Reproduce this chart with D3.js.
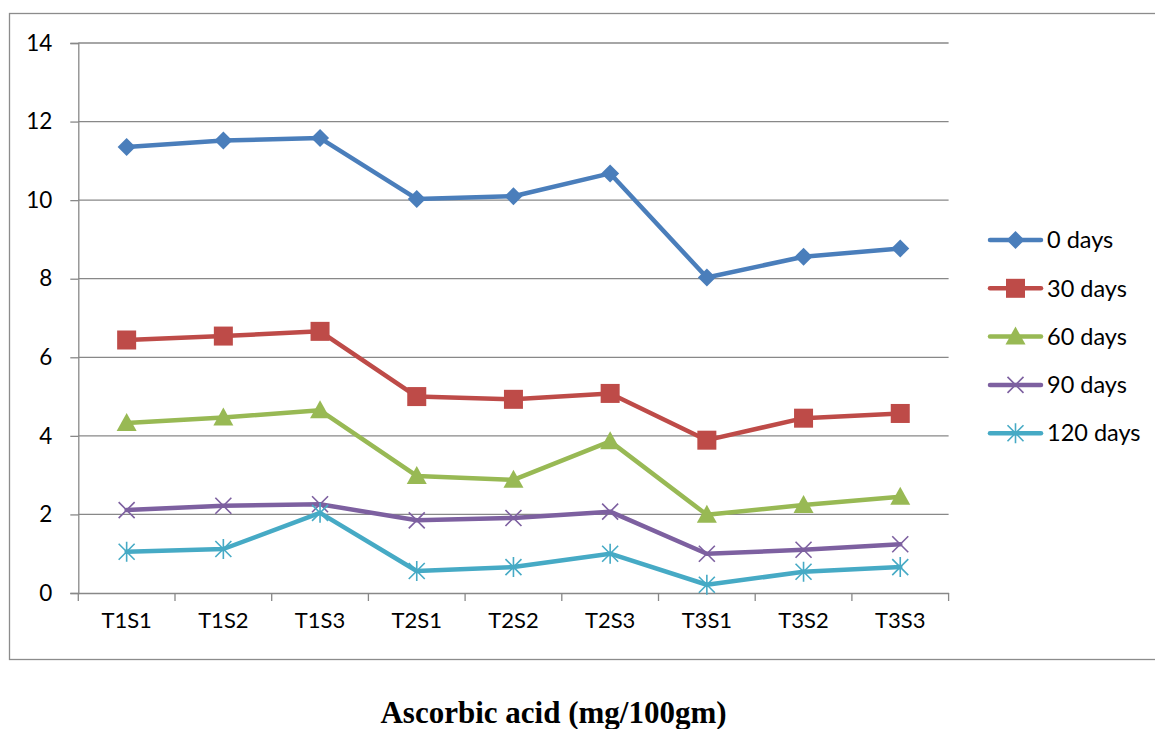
<!DOCTYPE html>
<html>
<head>
<meta charset="utf-8">
<script src="https://cdn.jsdelivr.net/npm/d3@7"></script>
<style>
  html, body { margin: 0; padding: 0; background: #fff; }
  svg { display: block; }
</style>
</head>
<body>
<svg id="chart" width="1155" height="729"></svg>
<script>
const categories = ["T1S1","T1S2","T1S3","T2S1","T2S2","T2S3","T3S1","T3S2","T3S3"];
const seriesNames = ["0 days","30 days","60 days","90 days","120 days"];
const days0   = [11.35, 11.52, 11.58, 10.03, 10.10, 10.68, 8.03, 8.56, 8.77];
const days30  = [6.44, 6.54, 6.66, 5.00, 4.93, 5.08, 3.89, 4.45, 4.57];
const days60  = [4.33, 4.47, 4.65, 2.98, 2.88, 3.86, 1.99, 2.24, 2.45];
const days90  = [2.11, 2.22, 2.26, 1.85, 1.91, 2.07, 1.00, 1.10, 1.24];
const days120 = [1.05, 1.12, 2.04, 0.56, 0.66, 1.00, 0.21, 0.54, 0.66];
const yTicks = [0, 2, 4, 6, 8, 10, 12, 14];
const colors = ["#4A7EBB", "#BE4B48", "#98B954", "#7D60A0", "#46AAC5"];
const markers = ["diamond", "square", "triangle", "x", "asterisk"];
const titleText = "Ascorbic acid (mg/100gm)";

(function () {
const allSeries = [days0, days30, days60, days90, days120];

const svg = d3.select("#chart");
const font = "Lato, 'Open Sans', sans-serif";

// outer frame
svg.append("rect").attr("x", 9.5).attr("y", 13.5).attr("width", 1160).attr("height", 646)
  .attr("fill", "none").attr("stroke", "#8c8c8c").attr("stroke-width", 1.3);

const pLeft = 78.3, pRight = 948.6, pTop = 43, pBottom = 593;
const x = d3.scaleBand().domain(categories).range([pLeft, pRight]);
const y = d3.scaleLinear().domain([0, 14]).range([pBottom, pTop]);

// gridlines
svg.append("g").selectAll("line").data(yTicks.filter(d => d > 0)).join("line")
  .attr("x1", pLeft).attr("x2", pRight)
  .attr("y1", d => y(d)).attr("y2", d => y(d))
  .attr("stroke", "#888").attr("stroke-width", 1.3);

// y axis
const yAxis = svg.append("g").attr("transform", `translate(${pLeft},0)`)
  .call(d3.axisLeft(y).tickValues(yTicks).tickSize(8).tickPadding(18));
yAxis.select(".domain").attr("stroke", "#888").attr("stroke-width", 1.3);
yAxis.selectAll(".tick line").attr("stroke", "#888").attr("stroke-width", 1.3);
yAxis.selectAll(".tick text").attr("font-family", font).attr("font-size", 22.5).attr("fill", "#000");

// x axis
const xAxis = svg.append("g").attr("transform", `translate(0,${pBottom})`)
  .call(d3.axisBottom(x).tickSize(0).tickPadding(19));
xAxis.select(".domain").attr("stroke", "#888").attr("stroke-width", 1.3);
xAxis.selectAll(".tick text").attr("font-family", font).attr("font-size", 22).attr("fill", "#000");
svg.append("g").selectAll("line").data(d3.range(categories.length + 1)).join("line")
  .attr("x1", i => pLeft + i * x.step()).attr("x2", i => pLeft + i * x.step())
  .attr("y1", pBottom).attr("y2", pBottom + 8)
  .attr("stroke", "#888").attr("stroke-width", 1.3);

function drawMarker(g, type, color) {
  if (type === "diamond") {
    g.append("path").attr("d", "M0,-9L9,0L0,9L-9,0Z").attr("fill", color);
  } else if (type === "square") {
    g.append("rect").attr("x", -9.5).attr("y", -9.5).attr("width", 19).attr("height", 19).attr("fill", color);
  } else if (type === "triangle") {
    g.append("path").attr("d", "M0,-10L10,8L-10,8Z").attr("fill", color);
  } else if (type === "x") {
    g.append("path").attr("d", "M-8,-8L8,8M-8,8L8,-8").attr("stroke", color).attr("stroke-width", 1.6).attr("fill", "none");
  } else if (type === "asterisk") {
    g.append("path").attr("d", "M-8,-8L8,8M-8,8L8,-8M0,-10L0,10").attr("stroke", color).attr("stroke-width", 1.6).attr("fill", "none");
  }
}

const line = d3.line().x((d, i) => x(categories[i]) + x.bandwidth() / 2).y(d => y(d));

allSeries.forEach((vals, si) => {
  const g = svg.append("g");
  g.append("path").datum(vals).attr("d", line)
    .attr("fill", "none").attr("stroke", colors[si]).attr("stroke-width", 4.5)
    .attr("stroke-linejoin", "round").attr("stroke-linecap", "round");
  vals.forEach((v, i) => {
    const mg = g.append("g").attr("transform", `translate(${x(categories[i]) + x.bandwidth() / 2},${y(v)})`);
    drawMarker(mg, markers[si], colors[si]);
  });
});

// legend
const legend = svg.append("g");
seriesNames.forEach((name, i) => {
  const ly = 240 + i * 48.3;
  const lg = legend.append("g").attr("transform", `translate(0,${ly})`);
  lg.append("line").attr("x1", 990).attr("x2", 1041).attr("y1", 0).attr("y2", 0)
    .attr("stroke", colors[i]).attr("stroke-width", 4.5).attr("stroke-linecap", "round");
  const mg = lg.append("g").attr("transform", "translate(1015.5,0)");
  drawMarker(mg, markers[i], colors[i]);
  lg.append("text").attr("x", 1047).attr("y", 0).attr("dy", "0.35em")
    .attr("font-family", font).attr("font-size", 23.5).attr("fill", "#000").text(name);
});

// title
svg.append("text").attr("x", 553.5).attr("y", 723)
  .attr("text-anchor", "middle").attr("font-family", "'Liberation Serif', 'Times New Roman', serif")
  .attr("font-weight", "bold").attr("font-size", 31).attr("fill", "#000").text(titleText);
})();
</script>
</body>
</html>
